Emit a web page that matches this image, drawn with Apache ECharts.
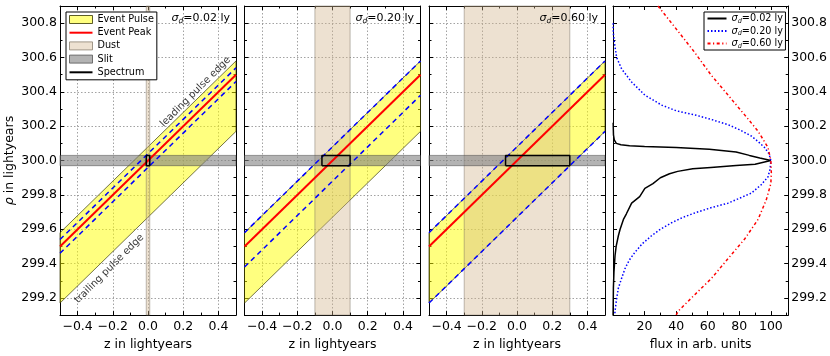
<!DOCTYPE html>
<html>
<head>
<meta charset="utf-8">
<script src="https://cdn.jsdelivr.net/npm/echarts@6.0.0/dist/echarts.min.js"></script>
<style>
html, body { margin: 0; padding: 0; background: #fff; }
#chart { width: 830px; height: 356px; }
</style>
</head>
<body>
<div id="chart"></div>
<script>
var FONT = 'DejaVu Sans';

// axis ranges
var zRange = [-0.5, 0.5];
var rhoRange = [299.1, 300.9];
var fluxRange = [0, 111];

// pulse geometry (z, rho), the same in the three left panels
var leadingEdge = [[-0.5, 299.58], [0.5, 300.58]];
var trailingEdge = [[-0.5, 299.17], [0.5, 300.17]];
var eventPeak = [[-0.5, 299.5], [0.5, 300.5]];

// per panel values
var sigmas = ['0.02', '0.20', '0.60'];
var widthUpper = [
    [[-0.5, 299.54], [0.5, 300.54]],
    [[-0.5, 299.58], [0.5, 300.58]],
    [[-0.5, 299.58], [0.5, 300.58]]
];
var widthLower = [
    [[-0.5, 299.46], [0.5, 300.46]],
    [[-0.5, 299.38], [0.5, 300.38]],
    [[-0.5, 299.17], [0.5, 300.17]]
];
var dustBands = [[-0.01, 0.01], [-0.1, 0.1], [-0.3, 0.3]];
var slitBand = [299.97, 300.03];
var spectrumBoxes = [[-0.01, 0.01], [-0.06, 0.1], [-0.065, 0.3]];

var leadingLabelAt = [0.27, 300.40];
var trailingLabelAt = [-0.22, 299.37];

// spectra, [flux, rho]
var spec002 = [[0.1, 300.22], [0.3, 300.15], [0.8, 300.12], [2.1, 300.10], [5, 300.092], [10.5, 300.086],
    [20, 300.082], [40, 300.076], [61, 300.066], [78, 300.05], [86.4, 300.03], [93, 300.015], [100, 300.0],
    [90, 299.978], [78, 299.971], [62, 299.96], [50.5, 299.952], [41, 299.937], [35.8, 299.923], [30, 299.9],
    [25.3, 299.866], [20.2, 299.838], [16.9, 299.79], [11.8, 299.752], [8.5, 299.69], [6.6, 299.657],
    [4.5, 299.6], [3.4, 299.562], [2, 299.5], [1.3, 299.447], [0.6, 299.35], [0.25, 299.257], [0.05, 299.1]];
var spec020 = [[0.1, 300.8], [0.2, 300.743], [0.9, 300.686], [2.3, 300.6], [5.5, 300.533], [11.8, 300.457],
    [20.2, 300.381], [30.8, 300.323], [40, 300.29], [51.8, 300.266], [62, 300.24], [72.9, 300.209], [80, 300.18],
    [87.6, 300.143], [92, 300.11], [96, 300.076], [98.8, 300.04], [100, 300.0], [99.5, 299.95], [98.2, 299.905],
    [94, 299.86], [87.6, 299.81], [80, 299.78], [72.9, 299.752], [62, 299.725], [51.8, 299.695], [44, 299.668],
    [37.1, 299.638], [30, 299.6], [24.4, 299.562], [18.5, 299.515], [13.9, 299.466], [10.3, 299.42],
    [7.6, 299.371], [5.3, 299.31], [3.4, 299.257], [2.2, 299.19], [1.3, 299.123], [1.1, 299.1]];
var spec060 = [[28.5, 300.9], [29.7, 300.886], [41.3, 300.752], [51.8, 300.629], [62.4, 300.495],
    [72.9, 300.381], [83.4, 300.266], [91.9, 300.171], [98.2, 300.076], [100, 300.0], [100.3, 299.93],
    [100, 299.866], [97.1, 299.771], [91.9, 299.657], [83.4, 299.543], [72.9, 299.429], [62.4, 299.314],
    [51.8, 299.219], [41.3, 299.123], [40, 299.1]];

var panels = [
    {left: 60, top: 6, width: 176, height: 314},
    {left: 244.5, top: 6, width: 176, height: 314},
    {left: 429, top: 6, width: 176, height: 314},
    {left: 613, top: 6, width: 176, height: 314}
];

var sigmaRich = {
    s: {fontFamily: FONT, fontStyle: 'italic', fontSize: 11, lineHeight: 14, color: '#000'},
    d: {fontFamily: FONT, fontStyle: 'italic', fontSize: 7.5, lineHeight: 8, verticalAlign: 'bottom', color: '#000'},
    t: {fontFamily: FONT, fontSize: 11, lineHeight: 14, color: '#000'}
};
var legendRich = {
    s: {fontFamily: FONT, fontStyle: 'italic', fontSize: 9.7, lineHeight: 12, color: '#000'},
    d: {fontFamily: FONT, fontStyle: 'italic', fontSize: 6.5, lineHeight: 7, verticalAlign: 'bottom', color: '#000'},
    t: {fontFamily: FONT, fontSize: 9.7, lineHeight: 12, color: '#000'}
};

function frameAxis(extra) {
    var a = {
        type: 'value',
        axisLine: {show: true, onZero: false, lineStyle: {color: '#000', width: 1}},
        axisTick: {show: true, inside: true, length: 4, lineStyle: {color: '#000'}},
        minorTick: {show: true, splitNumber: 2, length: 2.5, lineStyle: {color: '#000'}},
        splitLine: {show: false},
        axisLabel: {show: false}
    };
    for (var k in extra) a[k] = extra[k];
    return a;
}
function gridLines(show) {
    return {show: show, lineStyle: {color: '#8a8a8a', width: 0.8, type: [1.5, 2]}};
}
function zFmt(v) { return v.toFixed(1).replace('-', '\u2212'); }
function rhoFmt(v) { return v.toFixed(1); }
function fluxFmt(v) { return String(v); }
function labelStyle(fmt, margin) {
    return {show: true, margin: margin, fontSize: 12.5, fontFamily: FONT, color: '#000',
        showMinLabel: false, showMaxLabel: false, formatter: fmt};
}

var xAxes = [], yAxes = [];
for (var i = 0; i < 4; i++) {
    var isFlux = i === 3;
    var xr = isFlux ? fluxRange : zRange;
    var xMain = {gridIndex: i, min: xr[0], max: xr[1], position: 'bottom',
        splitLine: gridLines(!isFlux),
        axisLabel: labelStyle(isFlux ? fluxFmt : zFmt, 5),
        name: isFlux ? 'flux in arb. units' : 'z in lightyears',
        nameLocation: 'middle', nameGap: 21,
        nameTextStyle: {fontFamily: FONT, fontSize: 12.5, color: '#000'}};
    if (isFlux) xMain.interval = 20; else xMain.splitNumber = 5;
    xAxes.push(frameAxis(xMain));
    yAxes.push(frameAxis({gridIndex: i, min: rhoRange[0], max: rhoRange[1], splitNumber: 9,
        position: isFlux ? 'right' : 'left',
        splitLine: gridLines(!isFlux),
        axisLabel: (i === 0 || isFlux) ? labelStyle(rhoFmt, 3) : {show: false},
        name: i === 0 ? '{r|\u03c1} in lightyears' : '',
        nameLocation: 'middle', nameGap: 44,
        nameTextStyle: {fontFamily: FONT, fontSize: 12.5, color: '#000',
            rich: {r: {fontFamily: FONT, fontSize: 12.5, fontStyle: 'italic', color: '#000'}}}}));
}
// frame ticks on the opposite sides
for (i = 0; i < 4; i++) {
    var xt = {gridIndex: i, min: (i === 3 ? fluxRange : zRange)[0], max: (i === 3 ? fluxRange : zRange)[1], position: 'top'};
    if (i === 3) xt.interval = 20; else xt.splitNumber = 5;
    xAxes.push(frameAxis(xt));
    yAxes.push(frameAxis({gridIndex: i, min: rhoRange[0], max: rhoRange[1], splitNumber: 9,
        position: i === 3 ? 'left' : 'right'}));
}

function polygonSeries(name, panel, corners, fill, stroke, z) {
    return {
        type: 'custom', name: name, xAxisIndex: panel, yAxisIndex: panel, z: z, silent: true,
        data: [corners[0]],
        renderItem: function (params, api) {
            return {
                type: 'polygon',
                shape: {points: corners.map(function (c) { return api.coord(c); })},
                style: {fill: fill, stroke: stroke, lineWidth: 0.8}
            };
        }
    };
}
function lineSeries(name, panel, data, color, width, type, z) {
    return {
        type: 'line', name: name, xAxisIndex: panel, yAxisIndex: panel, z: z, silent: true,
        data: data, symbol: 'none', showSymbol: false, animation: false,
        lineStyle: {color: color, width: width, type: type}, itemStyle: {color: color}
    };
}

var series = [];
for (i = 0; i < 3; i++) {
    var d = dustBands[i], b = spectrumBoxes[i];
    series.push(polygonSeries('Event Pulse', i,
        [leadingEdge[0], leadingEdge[1], trailingEdge[1], trailingEdge[0]],
        'rgba(255,255,0,0.5)', 'rgba(50,50,0,0.85)', 1));
    series.push(polygonSeries('Dust', i,
        [[d[0], rhoRange[0]], [d[1], rhoRange[0]], [d[1], rhoRange[1]], [d[0], rhoRange[1]]],
        'rgba(210,180,140,0.4)', 'rgba(110,100,90,0.55)', 2));
    series.push(polygonSeries('Slit', i,
        [[zRange[0], slitBand[0]], [zRange[1], slitBand[0]], [zRange[1], slitBand[1]], [zRange[0], slitBand[1]]],
        'rgba(128,128,128,0.6)', 'rgba(60,60,60,0.6)', 3));
    series.push(lineSeries('width', i, widthUpper[i], '#0000ff', 1.5, [5, 4], 4));
    series.push(lineSeries('width', i, widthLower[i], '#0000ff', 1.5, [5, 4], 4));
    series.push(lineSeries('Event Peak', i, eventPeak, '#ff0000', 2, 'solid', 5));
    series.push(lineSeries('Spectrum', i,
        [[b[0], slitBand[0]], [b[1], slitBand[0]], [b[1], slitBand[1]], [b[0], slitBand[1]], [b[0], slitBand[0]]],
        '#000', 1.5, 'solid', 6));
}
series.push({
    type: 'scatter', xAxisIndex: 0, yAxisIndex: 0, symbolSize: 0, silent: true, z: 10,
    data: [
        {value: leadingLabelAt, label: {formatter: 'leading pulse edge'}},
        {value: trailingLabelAt, label: {formatter: 'trailing pulse edge'}}
    ],
    label: {show: true, position: 'inside', rotate: 45, fontSize: 10, fontFamily: FONT, color: '#000'}
});
series.push(lineSeries(sigmas[0], 3, spec002, '#000', 1.5, 'solid', 5));
series.push(lineSeries(sigmas[1], 3, spec020, '#0000ff', 1.5, [1.5, 2], 5));
series.push(lineSeries(sigmas[2], 3, spec060, '#ff0000', 1.5, [3, 2.5, 1.2, 2.5], 5));

var titles = [600, 416, 232].map(function (r, k) {
    return {text: '{s|\u03c3}{d|d}{t|=' + sigmas[k] + ' ly}', right: r, top: 11, padding: 0,
        textStyle: {fontWeight: 'normal', rich: sigmaRich}};
});

var noMarker = {opacity: 0};
var chart = echarts.init(document.getElementById('chart'), null, {renderer: 'canvas'});
chart.setOption({
    backgroundColor: '#fff',
    animation: false,
    title: titles,
    grid: panels,
    xAxis: xAxes,
    yAxis: yAxes,
    legend: [{
        orient: 'vertical', left: 66, top: 12, backgroundColor: '#fff',
        borderColor: '#000', borderWidth: 1, borderRadius: 0, padding: [1.5, 3, 1.5, 2.5],
        itemWidth: 23, itemHeight: 8, itemGap: 1.2, selectedMode: false,
        textStyle: {fontFamily: FONT, fontSize: 9.7, lineHeight: 12, color: '#000'},
        data: [
            {name: 'Event Pulse', icon: 'rect', itemStyle: {color: 'rgba(255,255,0,0.5)', borderColor: '#333300', borderWidth: 0.8}},
            {name: 'Event Peak', itemStyle: noMarker},
            {name: 'Dust', icon: 'rect', itemStyle: {color: 'rgba(210,180,140,0.4)', borderColor: '#8a8070', borderWidth: 0.8}},
            {name: 'Slit', icon: 'rect', itemStyle: {color: 'rgba(128,128,128,0.6)', borderColor: '#555', borderWidth: 0.8}},
            {name: 'Spectrum', itemStyle: noMarker}
        ]
    }, {
        orient: 'vertical', left: 704, top: 12, backgroundColor: '#fff',
        borderColor: '#000', borderWidth: 1, borderRadius: 0, padding: [0.5, 2.5, 0.5, 2.5],
        itemWidth: 19, itemHeight: 8, itemGap: 0.5, selectedMode: false,
        textStyle: {fontFamily: FONT, fontSize: 9.7, lineHeight: 12, color: '#000', rich: legendRich},
        formatter: function (name) { return '{s|\u03c3}{d|d}{t|=' + name + ' ly}'; },
        data: sigmas.map(function (s) { return {name: s, itemStyle: noMarker}; })
    }],
    series: series
});
</script>
</body>
</html>
